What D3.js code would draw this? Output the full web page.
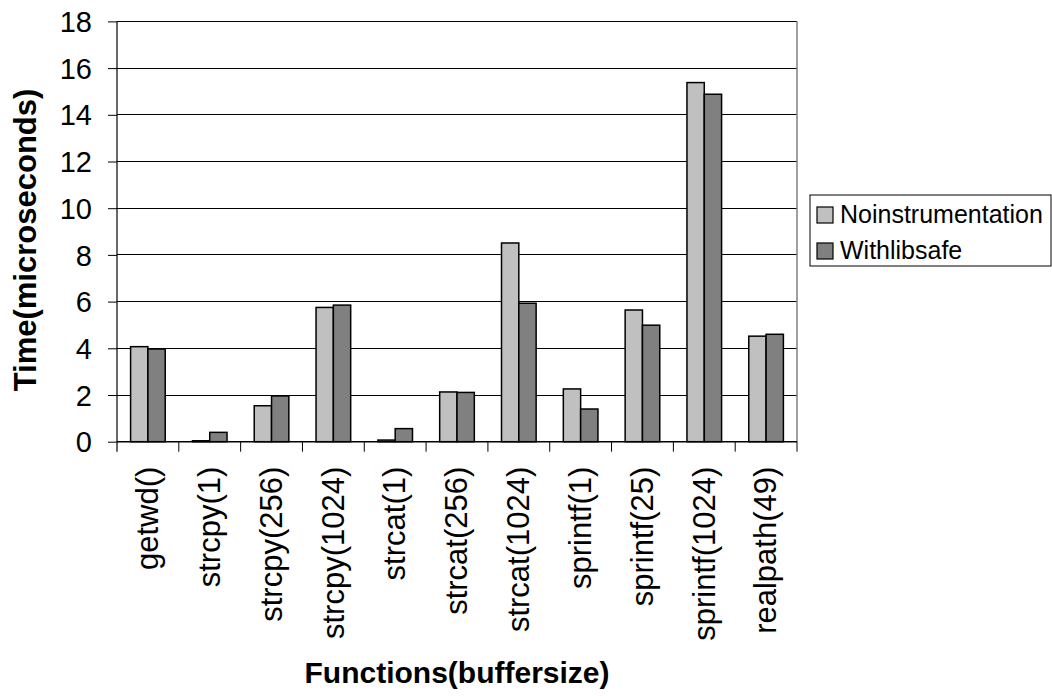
<!DOCTYPE html>
<html><head><meta charset="utf-8">
<script src="https://cdn.jsdelivr.net/npm/d3@7"></script>
<style>body{margin:0;background:#fff;} text{font-family:"Liberation Sans",Arial,sans-serif;fill:#000;}</style>
</head><body>
<svg id="c" width="1052" height="696"></svg>
<script>
const categories = ["getwd()","strcpy(1)","strcpy(256)","strcpy(1024)","strcat(1)","strcat(256)","strcat(1024)","sprintf(1)","sprintf(25)","sprintf(1024)","realpath(49)"];
const seriesNames = ["Noinstrumentation","Withlibsafe"];
const noInstrumentation = [4.07,0.04,1.54,5.75,0.07,2.13,8.51,2.26,5.64,15.38,4.52];
const withLibsafe = [3.97,0.40,1.96,5.85,0.56,2.11,5.93,1.40,4.99,14.88,4.60];
const yTicks = [0,2,4,6,8,10,12,14,16,18];
const seriesColors = ["#C0C0C0","#808080"];

const svg = d3.select("#c");
const L = 117, R = 797, T = 21.4, B = 441.7;
const x = d3.scaleBand().domain(categories).range([L, R]).padding(0);
const y = d3.scaleLinear().domain([0, 18]).range([B, T]);
const bw = x.bandwidth();
const inner = d3.scaleBand().domain(seriesNames).range([bw*0.22, bw*0.78]).padding(0);

// gridlines
svg.append("g").selectAll("line").data(yTicks.filter(d=>d>0)).join("line")
  .attr("x1", L).attr("x2", R).attr("y1", d=>y(d)).attr("y2", d=>y(d))
  .attr("stroke", "#000").attr("stroke-width", 1).attr("shape-rendering","crispEdges");
// right border
svg.append("line").attr("x1", R).attr("x2", R).attr("y1", T).attr("y2", B)
  .attr("stroke", "#808080").attr("stroke-width", 1.5);

// bars
const data = categories.map((c,i)=>({c, vals:[noInstrumentation[i], withLibsafe[i]]}));
const grp = svg.append("g").selectAll("g").data(data).join("g")
  .attr("transform", d=>`translate(${x(d.c)},0)`);
grp.selectAll("rect").data(d=>d.vals.map((v,j)=>({v, s:seriesNames[j], j}))).join("rect")
  .attr("x", d=>inner(d.s)).attr("width", inner.bandwidth())
  .attr("y", d=>y(d.v)).attr("height", d=>B - y(d.v))
  .attr("fill", d=>seriesColors[d.j]).attr("stroke", "#000").attr("stroke-width", 1.5);

// y axis
const yAxis = d3.axisLeft(y).tickValues(yTicks).tickSize(9).tickPadding(16);
const gy = svg.append("g").attr("transform", `translate(${L},0)`).call(yAxis);
gy.select(".domain").remove();
gy.selectAll(".tick line").attr("stroke", "#000");
gy.selectAll(".tick text").style("font-size", "29px").attr("dy", "0.35em");
svg.append("line").attr("x1", L).attr("x2", L).attr("y1", T).attr("y2", B+10).attr("stroke","#000").attr("stroke-width",1.2);

// x axis
svg.append("line").attr("x1", L).attr("x2", R).attr("y1", B).attr("y2", B).attr("stroke","#000").attr("stroke-width",1.5);
svg.append("g").selectAll("line").data(categories).join("line")
  .attr("x1", d=>x(d)+bw).attr("x2", d=>x(d)+bw).attr("y1", B).attr("y2", B+10)
  .attr("stroke", "#000").attr("stroke-width", 1);
svg.append("g").selectAll("text").data(categories).join("text")
  .attr("transform", d=>`translate(${x(d)+bw/2},${B+25}) rotate(-90)`)
  .attr("text-anchor","end").attr("dy","0.33em")
  .style("font-size","31px").text(d=>d);

// titles
svg.append("text").attr("x", (L+R)/2).attr("y", 683).attr("text-anchor","middle")
  .style("font-size","30px").style("font-weight","bold").text("Functions(buffersize)");
svg.append("text").attr("transform", `translate(36,240) rotate(-90)`).attr("text-anchor","middle")
  .style("font-size","31px").style("font-weight","bold").text("Time(microseconds)");

// legend
const lg = svg.append("g");
lg.append("rect").attr("x", 810).attr("y", 195).attr("width", 241).attr("height", 71)
  .attr("fill","#fff").attr("stroke","#000").attr("stroke-width",1);
seriesNames.forEach((s,i)=>{
  const cy = 214 + i*36;
  lg.append("rect").attr("x", 817).attr("y", cy-7).attr("width", 16).attr("height", 16)
    .attr("fill", seriesColors[i]).attr("stroke","#000").attr("stroke-width",1.2);
  lg.append("text").attr("x", 840).attr("y", cy).attr("dy","0.35em").style("font-size","25px").text(s);
});
</script>
</body></html>
